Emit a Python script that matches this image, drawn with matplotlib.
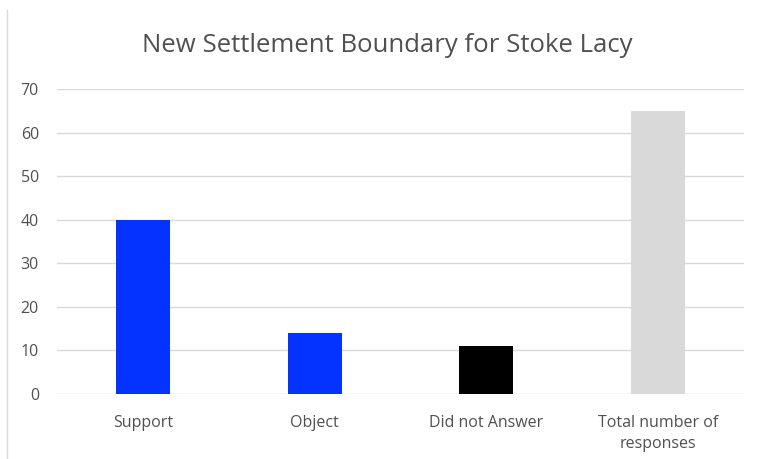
import matplotlib
matplotlib.use("Agg")
import matplotlib.pyplot as plt
from matplotlib.lines import Line2D

categories = ["Support", "Object", "Did not Answer", "Total number of\nresponses"]
values = [40, 14, 11, 65]
colors = ["#0433FF", "#0433FF", "#000000", "#D9D9D9"]
yticks = [0, 10, 20, 30, 40, 50, 60, 70]

plt.rcParams['font.family'] = ['Open Sans', 'DejaVu Sans']

fig = plt.figure(figsize=(7.57, 4.59), dpi=100)
ax = fig.add_axes([57/757, 1-394/459, (744-57)/757, (394-89)/459])

x = list(range(len(categories)))
ax.bar(x, values, width=0.315, color=colors, zorder=3)
ax.set_xlim(-0.5, len(categories)-0.5)
ax.set_ylim(0, 70)
ax.set_yticks(yticks)
ax.set_yticklabels([str(t) for t in yticks], color="#505050", fontsize=11.5)
ax.set_xticks(x)
ax.set_xticklabels(categories, color="#505050", fontsize=11.5, linespacing=1.45)
ax.tick_params(axis='both', length=0)
ax.tick_params(axis='y', pad=13)
ax.tick_params(axis='x', pad=15)
ax.grid(axis='y', color="#D9D9D9", linewidth=1, zorder=0)
for s in ax.spines.values():
    s.set_visible(False)

fig.text(387/757, 1-45/459, "New Settlement Boundary for Stoke Lacy",
         ha='center', va='center', fontsize=18.5, color="#505050")

fig.add_artist(Line2D([7/757, 7/757], [0, 1-10/459], color="#D9D9D9", linewidth=1))

fig.savefig("out.png", dpi=100)
